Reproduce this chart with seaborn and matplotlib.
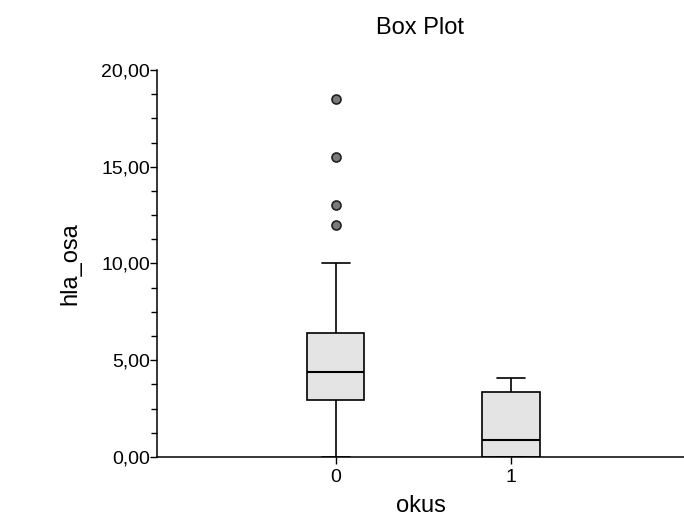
import numpy as np
import pandas as pd
import matplotlib
matplotlib.use("Agg")
import matplotlib.pyplot as plt
from matplotlib.ticker import MultipleLocator, FuncFormatter
import seaborn as sns

# values
# group 0: min 0, Q1 2.95, median 4.4, Q3 6.4, upper whisker 10, outliers 12, 13, 15.5, 18.5
# group 1: min 0, Q1 0, median 0.88, Q3 3.36, upper whisker 4.1
okus_0 = [0.0, 2.95, 2.95, 2.95, 2.95, 2.95, 4.4, 4.4, 4.4, 4.4, 4.4,
          6.4, 6.4, 6.4, 6.4, 6.4, 10.0, 12.0, 13.0, 15.5, 18.5]
okus_1 = [0.0, 0.0, 0.88, 3.36, 4.1]
groups = ["0", "1"]

df = pd.DataFrame({
    "okus": [groups[0]] * len(okus_0) + [groups[1]] * len(okus_1),
    "hla_osa": okus_0 + okus_1,
})

sns.set_style("ticks")
plt.rcParams["font.family"] = ["Liberation Sans", "DejaVu Sans"]
plt.rcParams["text.color"] = "black"
plt.rcParams["axes.labelcolor"] = "black"

fig = plt.figure(figsize=(6.84, 5.17), dpi=100)
ax = fig.add_axes([157 / 684, 1 - 457 / 517, 1 - 157 / 684, (457 - 70) / 517])

sns.boxplot(data=df, x="okus", y="hla_osa", order=groups, ax=ax,
            width=0.33, color="#e4e4e4", linecolor="black", linewidth=1.2,
            fliersize=6.5,
            flierprops=dict(marker="o", markerfacecolor="#7a7a7a",
                            markeredgecolor="#202020", markeredgewidth=1.2),
            medianprops=dict(color="black", linewidth=1.5),
            whiskerprops=dict(color="black", linewidth=1.2),
            capprops=dict(color="black", linewidth=1.2),
            boxprops=dict(edgecolor="black", linewidth=1.2),
            capwidths=0.16)

ax.set_xlim(-1.02, 1.99)
ax.set_ylim(0, 20)
ax.yaxis.set_major_locator(MultipleLocator(5))
ax.yaxis.set_minor_locator(MultipleLocator(1.25))
ax.yaxis.set_major_formatter(FuncFormatter(lambda v, p: f"{v:.2f}".replace(".", ",")))

ax.tick_params(axis="y", which="major", length=5, width=1, color="black",
               labelcolor="black", labelsize=14, pad=0)
ax.tick_params(axis="y", which="minor", length=4, width=1, color="black")
ax.tick_params(axis="x", which="major", length=5, width=1, color="black",
               labelcolor="black", labelsize=14, pad=4)

for s in ("top", "right"):
    ax.spines[s].set_visible(False)
for s in ("left", "bottom"):
    ax.spines[s].set_color("black")
    ax.spines[s].set_linewidth(1.1)

ax.set_xlabel("okus", fontsize=17, labelpad=6)
ax.set_ylabel("hla_osa", fontsize=17, labelpad=14)
ax.set_title("Box Plot", fontsize=17, pad=26)

fig.savefig("out.png", dpi=100)
